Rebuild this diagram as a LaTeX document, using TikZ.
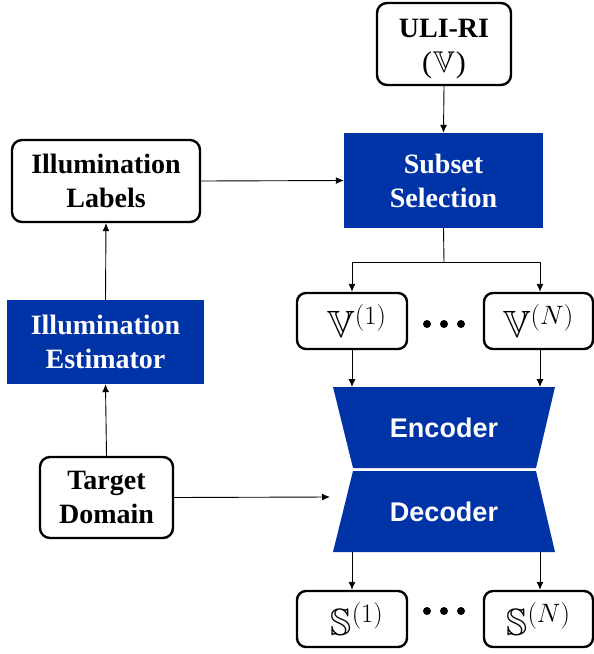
\RequirePackage{fix-cm}
\documentclass[tikz,border=0pt]{standalone}
\usepackage{amssymb}
\usepackage{fontspec}
\setmainfont{Liberation Serif}
\setsansfont{Liberation Sans}
\usetikzlibrary{arrows.meta}
\definecolor{boxblue}{RGB}{0,51,166}
\tikzset{
  wbox/.style={draw=black, line width=2.4pt, rounded corners=10pt, fill=white, inner sep=0pt, align=center,
    font=\fontsize{28}{34}\selectfont\bfseries},
  bbox/.style={fill=boxblue, inner sep=0pt, align=center, text=white,
    font=\fontsize{28}{34}\selectfont\bfseries},
  mbox/.style={draw=black, line width=2.4pt, rounded corners=9pt, fill=white, inner sep=0pt},
  mtext/.style={inner sep=0pt, font=\fontsize{38}{44}\selectfont},
  conn/.style={line width=0.9pt, -{Latex[length=8pt,width=7pt]}},
  plain/.style={line width=0.9pt},
  coder/.style={font=\sffamily\bfseries\fontsize{27}{32}\selectfont, text=white}
}
\begin{document}
\begin{tikzpicture}[x=1pt,y=-1pt]
\useasboundingbox (0,0) rectangle (594,654);
% nodes
\node[draw=black, line width=2.4pt, rounded corners=10pt, fill=white, minimum width=134pt, minimum height=82pt] (uli) at (444,44) {};
\node[font=\fontsize{28}{34}\selectfont\bfseries, inner sep=0pt, anchor=base] (ulit) at (444,37) {ULI-RI};
\node[font=\fontsize{30}{34}\selectfont, inner sep=0pt, anchor=base] (ulim) at (444,72) {(\hspace{1pt}$\mathbb{V}$\hspace{1pt})};
\node[bbox, minimum width=199pt, minimum height=95pt] (subset) at (443.5,180.5) {Subset\\Selection};
\node[wbox, minimum width=188pt, minimum height=82pt] (labels) at (106,181) {Illumination\\Labels};
\node[bbox, minimum width=197pt, minimum height=84pt] (estim) at (105.5,342) {Illumination\\Estimator};
\node[wbox, minimum width=133pt, minimum height=81pt] (target) at (106.5,497.5) {Target\\Domain};
\node[mbox, minimum width=110pt, minimum height=56pt] (v1) at (352,321) {};
\node[mbox, minimum width=109pt, minimum height=56pt] (vn) at (538.5,321) {};
\node[mbox, minimum width=110pt, minimum height=56pt] (s1) at (352,619) {};
\node[mbox, minimum width=109pt, minimum height=56pt] (sn) at (538.5,619) {};
\node[mtext] (v1t) at (357,321) {$\mathbb{V}^{(1)}$};
\node[mtext] (vnt) at (538.5,321) {$\mathbb{V}^{(N)}$};
\node[mtext] (s1t) at (357,619) {$\mathbb{S}^{(1)}$};
\node[mtext] (snt) at (538.5,619) {$\mathbb{S}^{(N)}$};
% dots
\foreach \yy in {324,611}{
  \foreach \xx in {427,444,461}{\fill (\xx,\yy) circle (4pt);}
}
% encoder / decoder
\fill[boxblue] (333,387) -- (555,387) -- (536,468) -- (353,468) -- cycle;
\fill[boxblue] (353,471) -- (536,471) -- (555,552) -- (333,552) -- cycle;
\node[coder] (enc) at (444,428) {Encoder};
\node[coder] (dec) at (444,512) {Decoder};
\coordinate (encA) at (352,387);
\coordinate (encB) at (540,387);
\coordinate (decA) at (352,552);
\coordinate (decB) at (540,552);
\coordinate (decL) at (330,497);
\coordinate (split) at (444,262);
\coordinate (splitA) at (352,262);
\coordinate (splitB) at (540,262);
% connectors
\draw[conn] (uli.south) -- (subset.north);
\draw[conn] (labels.east) -- (subset.west);
\draw[conn] (estim.north) -- (labels.south);
\draw[conn] (target.north) -- (estim.south);
\draw[conn] (target.east) -- (decL);
\draw[plain] (subset.south) -- (split);
\draw[conn] (split) -- (splitA) -- (v1.north -| splitA);
\draw[conn] (split) -- (splitB) -- (vn.north -| splitB);
\draw[conn] (v1.south -| encA) -- (encA);
\draw[conn] (vn.south -| encB) -- (encB);
\draw[conn] (decA) -- (s1.north -| decA);
\draw[conn] (decB) -- (sn.north -| decB);
\end{tikzpicture}
\end{document}
